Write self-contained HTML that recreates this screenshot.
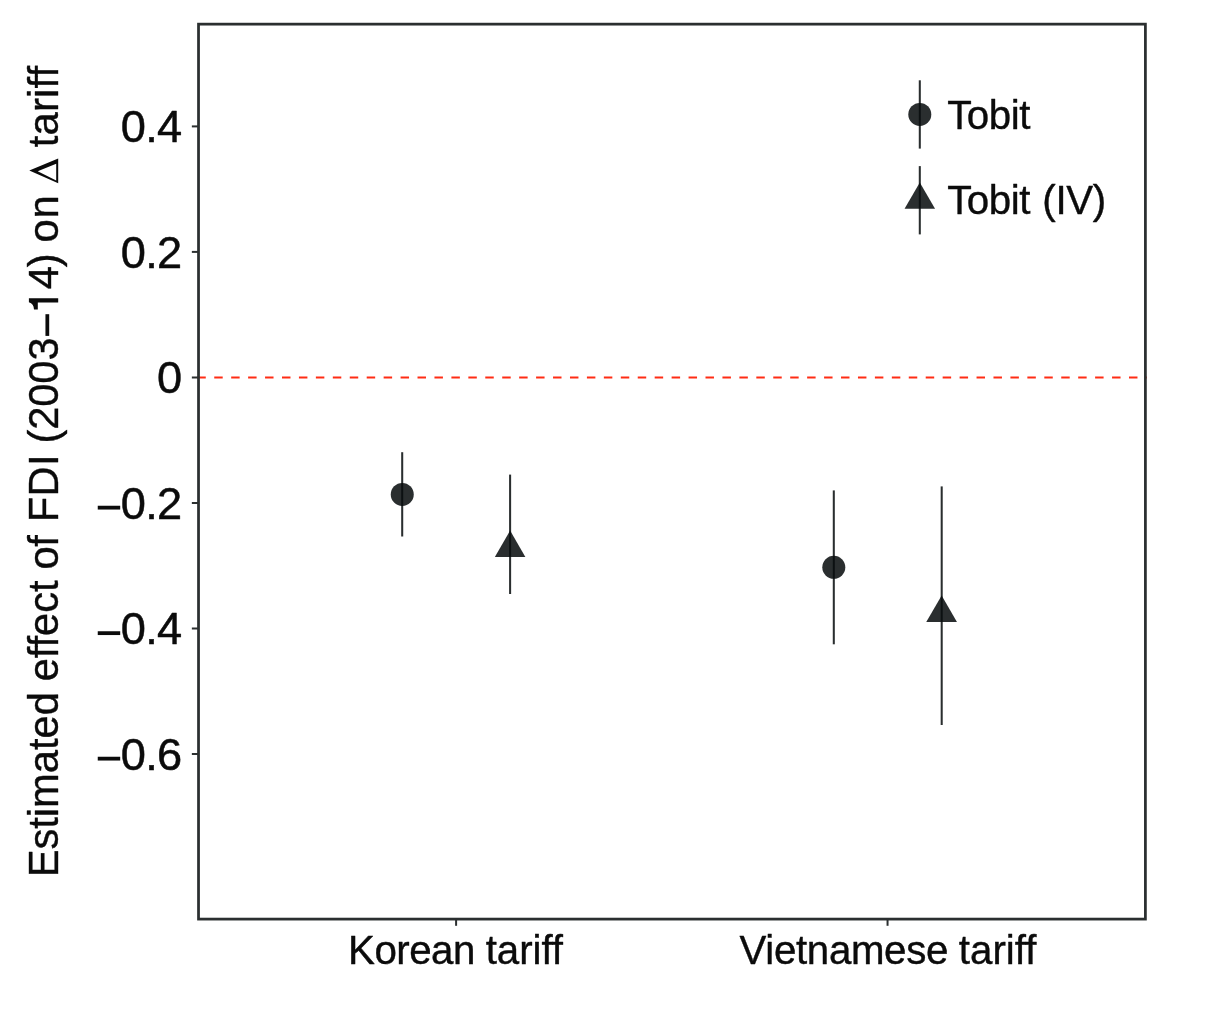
<!DOCTYPE html>
<html>
<head>
<meta charset="utf-8">
<title>Estimated effect of FDI on tariff</title>
<style>
  html, body { margin: 0; padding: 0; background: #ffffff; }
  body { width: 1214px; height: 1018px; overflow: hidden; }
  svg { display: block; will-change: transform; }
  text { font-family: "Liberation Sans", sans-serif; fill: #0b0b0b; stroke: #0b0b0b; stroke-linejoin: round; }
</style>
</head>
<body>
<svg width="1214" height="1018" viewBox="0 0 1214 1018">
  <rect x="0" y="0" width="1214" height="1018" fill="#ffffff"/>

  <!-- zero reference line -->
  <line x1="197.3" y1="377.5" x2="1146.8" y2="377.5" stroke="#ff2c14" stroke-width="2.12" stroke-dasharray="8.47 8.47"/>

  <!-- point ranges -->
  <g stroke="#070c0d" stroke-opacity="0.86" stroke-width="2.05" fill="none">
    <line x1="402.2" y1="452.2" x2="402.2" y2="536.5"/>
    <line x1="510.1" y1="474.6" x2="510.1" y2="594.0"/>
    <line x1="833.8" y1="490.4" x2="833.8" y2="644.3"/>
    <line x1="941.7" y1="486.4" x2="941.7" y2="725.0"/>
    <line x1="919.8" y1="80.3" x2="919.8" y2="148.6"/>
    <line x1="919.8" y1="166.1" x2="919.8" y2="234.4"/>
  </g>
  <g fill="#070c0d" fill-opacity="0.86" stroke="none">
    <circle cx="402.25" cy="494.4" r="11.5"/>
    <circle cx="833.8" cy="567.3" r="11.5"/>
    <circle cx="919.8" cy="114.4" r="11.5"/>
    <polygon points="510.1,530.6 525.35,556.9 494.85,556.9"/>
    <polygon points="941.65,595.6 956.95,622.1 926.25,622.1"/>
    <polygon points="919.8,182.5 935.05,208.7 904.55,208.7"/>
  </g>

  <!-- panel border -->
  <rect x="198.52" y="24.15" width="946.88" height="894.95" fill="none" stroke="#2b2f30" stroke-width="2.75"/>

  <!-- axis ticks -->
  <g stroke="#2b2f30" stroke-width="2.0" fill="none">
    <line x1="191.85" y1="126.4" x2="198" y2="126.4"/>
    <line x1="191.85" y1="251.9" x2="198" y2="251.9"/>
    <line x1="191.85" y1="377.5" x2="198" y2="377.5"/>
    <line x1="191.85" y1="503.0" x2="198" y2="503.0"/>
    <line x1="191.85" y1="628.5" x2="198" y2="628.5"/>
    <line x1="191.85" y1="754.0" x2="198" y2="754.0"/>
    <line x1="456.1" y1="919.5" x2="456.1" y2="925.8"/>
    <line x1="887.55" y1="919.5" x2="887.55" y2="925.8"/>
  </g>

  <!-- y tick labels -->
  <g font-size="45.20" text-anchor="end" stroke-width="0.50" letter-spacing="-0.803">
    <text x="181.29" y="142.05">0.4</text>
    <text x="181.29" y="267.55">0.2</text>
    <text x="181.29" y="393.15">0</text>
    <text x="181.29" y="518.65"><tspan fill="none" stroke="none">&#8722;</tspan>0.2</text>
    <text x="181.29" y="644.15"><tspan fill="none" stroke="none">&#8722;</tspan>0.4</text>
    <text x="181.29" y="769.65"><tspan fill="none" stroke="none">&#8722;</tspan>0.6</text>
  </g>
  <g fill="#0b0b0b" stroke="none">
    <rect x="97.75" y="505.75" width="22.45" height="3.8"/>
    <rect x="97.75" y="631.25" width="22.45" height="3.8"/>
    <rect x="97.75" y="756.75" width="22.45" height="3.8"/>
  </g>

  <!-- x tick labels and legend labels (word by word) -->
  <g font-size="41.30" text-anchor="start" stroke-width="0.40">
    <text letter-spacing="-0.520" transform="translate(348.09,963.55) scale(0.975,1)">Korean</text>
    <text letter-spacing="-0.055" transform="translate(485.70,963.55) scale(0.975,1)">tariff</text>
    <text letter-spacing="-0.352" transform="translate(739.59,963.55) scale(0.975,1)">Vietnamese</text>
    <text letter-spacing="-0.021" transform="translate(958.87,963.55) scale(0.975,1)">tariff</text>
    <text letter-spacing="-0.492" transform="translate(947.23,128.50) scale(0.975,1)">Tobit</text>
    <text letter-spacing="-0.492" transform="translate(947.23,213.50) scale(0.975,1)">Tobit</text>
    <text letter-spacing="-0.301" transform="translate(1042.29,213.50) scale(0.975,1)">(IV)</text>
  </g>

  <!-- y axis title: Estimated effect of FDI (2003-14) on (Delta) tariff -->
  <g font-size="42.80" text-anchor="start" stroke-width="0.38">
    <text letter-spacing="-0.026" transform="translate(58.05,877.36) rotate(-90) scale(0.975,1)">Estimated</text>
    <text letter-spacing="-0.068" transform="translate(58.05,681.32) rotate(-90) scale(0.975,1)">effect</text>
    <text letter-spacing="-0.667" transform="translate(58.05,569.39) rotate(-90) scale(0.975,1)">of</text>
    <text letter-spacing="0.383" transform="translate(58.05,522.36) rotate(-90) scale(0.975,1)">FDI</text>
    <text letter-spacing="-0.118" transform="translate(58.05,443.61) rotate(-90) scale(0.975,1)">(2003<tspan fill="none" stroke="none">&#8211;1</tspan></text>
    <text letter-spacing="-1.454" transform="translate(58.05,289.14) rotate(-90) scale(0.975,1)">4)</text>
    <text letter-spacing="0.666" transform="translate(58.05,242.39) rotate(-90) scale(0.975,1)">on<tspan fill="none" stroke="none"> &#916;</tspan></text>
    <text letter-spacing="0.228" transform="translate(58.05,147.27) rotate(-90) scale(0.975,1)">tariff</text>
  </g>
  <g fill="#0b0b0b" stroke="none">
    <rect x="45.45" y="314.2" width="3.75" height="21.7"/>
    <path d="M28.9,298.2 L58.2,298.2 L58.2,302.4 L37.8,302.4 L37.8,309.45 L34.0,309.45 C33.8,305.6 32.2,303.2 28.9,302.3 Z"/>
    <path fill-rule="evenodd" d="M29.3,170.45 L58.2,158.4 L58.2,183.25 Z M37.7,171.3 L56.2,163.75 L56.2,180.5 Z"/>
  </g>
</svg>
</body>
</html>
